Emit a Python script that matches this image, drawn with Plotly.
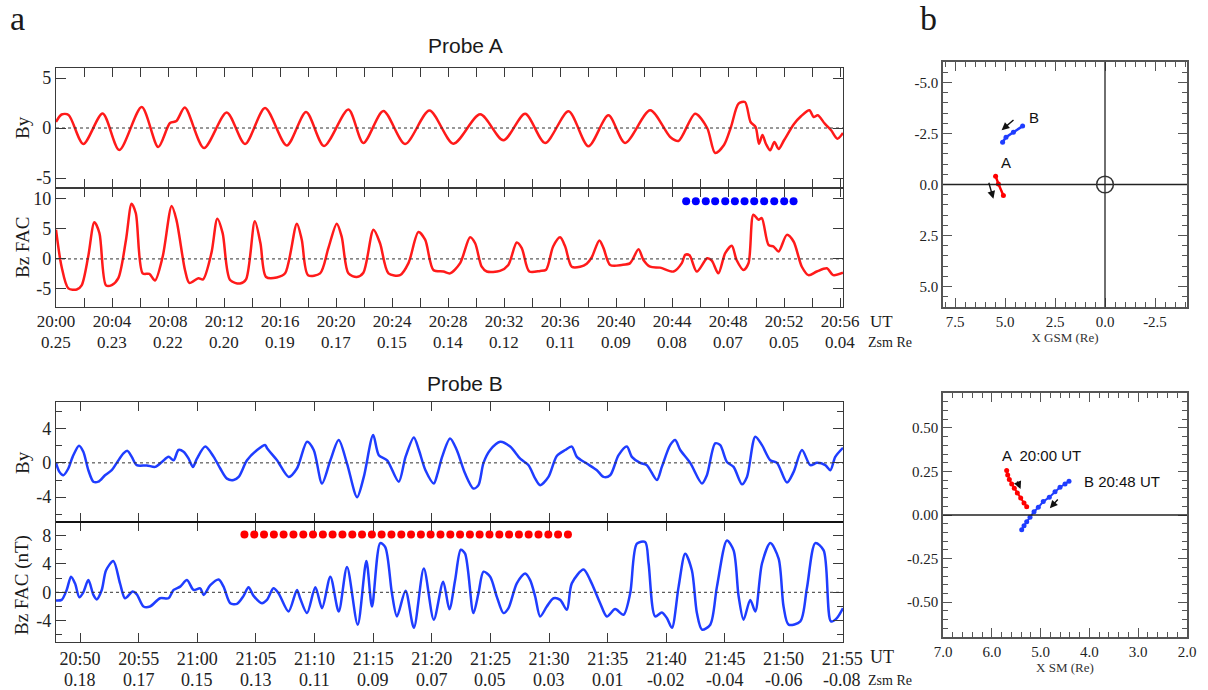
import plotly.graph_objects as go

W, H = 1208, 690
SERIF = "Liberation Serif, Times New Roman, serif"
SANS = "Liberation Sans, Arial, sans-serif"

# ---------------- Probe A (minutes after 20:00) ----------------
a_by_t = [0, 0.4, 0.9, 1.95, 3.33, 4.52, 6.12, 7.3, 8.14, 8.6, 9.2, 10.57, 12.19, 13.5, 14.93, 16.48,
          17.86, 19.14, 20.88, 21.95, 23.38, 24.93, 26.67, 28.38, 30.29, 31.95, 33.5, 34.93, 36.6, 38.02,
          39.45, 40.64, 42.43, 43.86, 44.45, 45.64, 46.5, 47.07, 47.7, 48.2, 48.74, 49.2, 49.6, 49.96,
          50.2, 50.45, 50.7, 51.0, 51.3, 51.6, 52.0, 52.7, 53.2, 53.8, 54.1, 54.4, 54.9, 55.35, 55.8, 56.2]
a_by_v = [0.6, 1.35, 1.3, -1.6, 1.45, -2.2, 2.1, -1.9, 0.5, 0.7, 2.05, -2.0, 1.55, -1.6, 2.0, -1.75,
          1.6, -1.8, 1.85, -1.5, 1.7, -1.6, 1.75, -1.57, 1.37, -1.23, 1.43, -1.5, 1.67, -1.83,
          1.27, -1.5, 1.77, -0.9, -1.3, 1.43, 0.0, -2.5, -1.7, 0.1, 2.43, 2.6, 0.6, 0.1,
          -1.57, -0.7, -1.6, -2.23, -1.4, -2.1, -1.2, 0.4, 1.17, 1.77, 1.1, 1.27, 0.43, -0.23, -1.07, -0.5]

a_bz_t = [0, 0.4, 0.88, 1.48, 1.83, 2.3, 2.74, 3.1, 3.57, 3.98, 4.45, 5.0, 5.4, 5.7, 6.19, 6.67, 7.07,
          7.62, 8.26, 8.6, 9.21, 9.52, 10.17, 10.5, 11.1, 11.52, 11.9, 12.43, 13.14, 13.57, 14.2, 14.6,
          15.0, 15.76, 16.36, 17.2, 17.55, 18.0, 18.86, 19.45, 20.05, 20.4, 20.88, 21.48, 21.95, 22.67,
          23.14, 23.74, 24.57, 25.17, 25.88, 26.36, 26.95, 27.67, 28.14, 28.86, 29.57, 29.93, 30.4,
          30.76, 31.7, 32.3, 32.9, 33.26, 33.8, 34.57, 35.0, 35.5, 36.0, 36.36, 36.83, 37.43, 37.9,
          38.26, 38.8, 39.1, 39.57, 40.4, 41.0, 41.6, 41.95, 42.43, 43.14, 44.1, 44.69, 44.93, 45.24,
          45.76, 46.5, 46.83, 47.3, 47.79, 48.26, 48.6, 49.1, 49.45, 49.8, 50.17, 50.4, 50.88, 51.24,
          51.6, 52.19, 52.67, 53.26, 53.74, 54.33, 55.05, 55.5, 56.2]
a_bz_v = [4.86, -1.3, -4.9, -5.1, -4.4, 0.4, 6.1, 4.3, -4.4, -4.36, -3.2, 3.2, 9.2, 7.6, -2.4, -2.5, -3.6,
          0.4, 8.8, 6.5, -1.84, -4.0, -3.2, -3.4, 1.0, 6.7, 4.3, -3.5, -4.1, -3.4, 6.26, 2.6,
          -3.0, -3.1, -2.4, 5.87, 3.2, -2.7, -2.4, 1.8, 5.87, 3.7, -2.4, -3.0, -2.3, 4.86,
          2.6, -2.4, -2.7, -0.7, 4.47, 3.2, -1.84, -2.1, -2.4, -0.7, 3.6, 2.6, -1.3,
          -2.1, -2.0, -1.0, 2.74, 1.8, -2.1, -2.0, -1.8, 2.07, 3.6, 2.07, -1.3, -1.3, -0.8,
          0.28, 3.07, 1.8, -1.0, -1.0, -0.7, 1.6, -0.17, -1.3, -1.45, -2.1, -0.7, 0.67, 0.6,
          -2.1, 0.1, -0.28, -2.4, 0.95, 2.18, -0.17, -1.84, -0.73, 7.37, 6.5, 6.8, 2.35, 2.07,
          1.23, 4.0, 2.9, -1.3, -2.7, -2.1, -1.56, -2.7, -2.3]

a_dots_t = [45.0, 45.69, 46.4, 47.07, 47.79, 48.48, 49.17, 49.86, 50.57, 51.29, 52.0, 52.67]
a_dots_level = 9.6

a_tick_ut = ["20:00", "20:04", "20:08", "20:12", "20:16", "20:20", "20:24", "20:28",
             "20:32", "20:36", "20:40", "20:44", "20:48", "20:52", "20:56"]
a_tick_min = [0, 4, 8, 12, 16, 20, 24, 28, 32, 36, 40, 44, 48, 52, 56]
a_tick_zsm = ["0.25", "0.23", "0.22", "0.20", "0.19", "0.17", "0.15", "0.14",
              "0.12", "0.11", "0.09", "0.08", "0.07", "0.05", "0.04"]

# ---------------- Probe B (minutes after 20:00) ----------------
b_by_t = [47.95, 48.24, 48.58, 49.0, 49.37, 49.91, 50.28, 50.71, 51.14, 51.56, 52.13, 52.7, 53.13, 53.7,
          54.04, 54.41, 54.84, 55.7, 56.41, 56.98, 57.55, 57.98, 58.4, 58.83, 59.26, 59.63, 59.97,
          60.68, 61.4, 61.96, 62.53, 63.1, 63.53, 64.24, 65.1, 65.8, 65.95, 66.8, 67.8, 68.5, 69.36,
          69.93, 70.64, 71.35, 72.06, 72.77, 73.63, 74.2, 75.0, 75.48, 76.19, 77.18, 77.76, 78.47,
          78.9, 79.46, 80.17, 80.5, 80.88, 81.56, 82.13, 82.84, 83.55, 83.98, 84.41, 84.98, 85.83,
          86.68, 87.54, 88.25, 88.82, 89.24, 89.95, 90.66, 91.38, 91.94, 92.37, 93.22, 94.08, 94.65,
          95.21, 95.93, 96.64, 97.06, 97.77, 98.34, 99.2, 99.62, 100.33, 100.76, 101.19, 102.04,
          103.04, 103.46, 104.17, 104.6, 105.17, 105.74, 106.45, 106.88, 107.59, 108.16, 108.87,
          109.44, 110.29, 110.86, 111.57, 112.28, 112.85, 113.56, 113.99, 114.41, 115.07]
b_by_v = [0.0, -1.05, -1.45, -0.66, 0.7, 2.0, 1.3, -0.86, -2.2, -2.2, -1.45, -0.86, 0.0, 1.1,
          1.4, 0.7, -0.27, -0.3, -0.47, 0.1, 0.7, 0.3, 1.5, 1.3, 0.5, -0.47, 0.5,
          1.9, 0.7, -0.66, -1.84, -2.0, -1.64, 0.3, 1.5, 2.07, 1.7, 0.3, -1.64, -0.66, 2.46,
          1.5, -2.4, 0.3, 2.66, -0.08, -4.0, -1.64, 3.24, 0.9, 0.3, -2.2, 0.7, 2.97,
          1.5, -0.86, -2.4, -1.2, 0.7, 2.85, 1.5, -1.25, -3.0, -2.6, 0.0, 1.5, 2.46,
          1.9, 0.5, -0.27, -1.84, -2.6, -1.64, 0.8, 1.5, 1.9, 0.7, -0.08, -0.86, -1.64,
          -1.45, 0.9, 1.9, 0.7, 0.0, -0.27, -2.0, -0.47, 2.07, 2.66, 1.5, 0.0,
          -2.4, -1.45, 2.27, 2.07, 0.1, -0.47, -2.5, -1.64, 3.05, 2.07, 0.3,
          0.0, -2.3, -1.05, 1.5, -0.27, 0.0, -0.27, -0.86, 0.7, 1.76]

b_bz_t = [47.95, 48.43, 48.86, 49.23, 49.57, 49.94, 50.28, 50.71, 51.14, 51.42, 51.85, 52.22, 52.84,
          53.41, 53.84, 54.49, 54.84, 55.41, 55.97, 56.82, 57.55, 57.98, 58.54, 59.12, 59.68, 60.25,
          60.54, 61.11, 61.82, 62.24, 62.81, 63.38, 63.95, 64.37, 64.8, 65.51, 65.94, 66.5, 66.93,
          67.78, 68.5, 68.77, 69.36, 70.07, 70.64, 71.35, 72.06, 72.77, 73.68, 74.42, 74.9, 75.6,
          76.03, 76.6, 77.03, 77.76, 78.47, 79.32, 80.17, 80.97, 81.5, 81.99, 82.47, 82.84, 83.55,
          83.98, 84.41, 84.98, 85.54, 86.11, 86.54, 87.25, 87.96, 88.39, 88.82, 89.24, 89.81, 90.38,
          90.95, 91.52, 91.94, 92.94, 93.51, 94.36, 94.93, 95.64, 96.35, 96.92, 97.49, 98.2, 98.49,
          99.05, 99.62, 100.05, 100.48, 101.05, 101.61, 102.18, 102.61, 103.04, 103.75, 104.32,
          105.17, 105.74, 106.17, 106.59, 107.16, 107.59, 108.16, 108.87, 109.58, 110.0, 110.43,
          111.43, 111.99, 112.71, 113.42, 114.04, 114.55, 115.07]
b_bz_v = [-1.16, -1.07, 0.33, 2.2, 1.26, -0.7, 0.0, 1.72, -0.37, -1.0, 0.33, 3.1, 4.4,
          1.26, -0.84, 0.1, -0.3, -2.0, -2.0, -0.84, -0.84, 0.33, 0.8, 1.72, 0.33, 0.56,
          -0.37, 1.0, 1.8, 0.8, -1.53, -1.63, -0.5, 0.7, -0.5, -1.53, -1.07, 0.56, -0.14,
          -2.7, 0.33, -0.84, -2.93, 0.7, -2.23, 2.2, -2.7, 3.58, -4.56, 4.4, -2.0, 6.93,
          6.37, -0.14, -3.4, 0.23, -5.0, 3.35, -3.86, 1.5, -2.4, 1.72, 6.0, 5.44, -2.93,
          -0.14, 2.9, 2.2, -0.6, -2.93, -2.23, 1.26, 2.65, 1.72, -0.6, -3.4, -2.0, -0.84,
          -1.07, -2.47, 1.26, 3.2, 1.72, -1.53, -3.4, -2.37, -3.16, -0.14, 6.84, 7.07, 4.05,
          -3.4, -2.84, -3.63, -5.0, 0.8, 5.44, 3.1, -2.93, -5.26, -4.56, 0.8,
          7.3, 5.9, -0.6, -3.86, -1.07, -2.7, 4.05, 6.93, 4.74, -2.0, -4.56,
          -4.1, 0.56, 6.93, 5.9, -4.1, -3.63, -2.23]

b_dots_t = [64.02, 64.86, 65.69, 66.53, 67.36, 68.2, 69.04, 69.87, 70.71, 71.54, 72.38, 73.22,
            74.05, 74.89, 75.72, 76.56, 77.4, 78.23, 79.07, 79.9, 80.74, 81.58, 82.41, 83.25,
            84.08, 84.92, 85.76, 86.59, 87.43, 88.26, 89.1, 89.94, 90.77, 91.61]
b_dots_level = 8.15

b_tick_min = [50, 55, 60, 65, 70, 75, 80, 85, 90, 95, 100, 105, 110, 115]
b_tick_ut = ["20:50", "20:55", "21:00", "21:05", "21:10", "21:15", "21:20", "21:25",
             "21:30", "21:35", "21:40", "21:45", "21:50", "21:55"]
b_tick_zsm = ["0.18", "0.17", "0.15", "0.13", "0.11", "0.09", "0.07", "0.05",
              "0.03", "0.01", "-0.02", "-0.04", "-0.06", "-0.08"]

# ---------------- Panel b: orbits ----------------
gsm_a_x = [5.47, 5.33, 5.08]
gsm_a_y = [-0.41, -0.03, 0.54]
gsm_b_x = [5.12, 4.95, 4.58, 4.12]
gsm_b_y = [-2.07, -2.32, -2.56, -2.86]

sm_a_x = [5.695, 5.674, 5.641, 5.592, 5.539, 5.477, 5.408, 5.340, 5.285]
sm_a_y = [0.255, 0.230, 0.203, 0.178, 0.153, 0.126, 0.098, 0.069, 0.048]
sm_b_x = [5.387, 5.34, 5.285, 5.217, 5.135, 5.047, 4.945, 4.822, 4.705, 4.602, 4.5, 4.418]
sm_b_y = [-0.084, -0.061, -0.039, -0.013, 0.019, 0.044, 0.077, 0.102, 0.134, 0.159, 0.178, 0.194]

RED = "#ff1a1a"
BLUE = "#1f3dff"


def px(x):
    return x / W


def py(y):
    return 1 - y / H


fig = go.Figure()

line_kw = dict(mode="lines", line_shape="spline", hoverinfo="skip", showlegend=False)
fig.add_trace(go.Scatter(x=a_by_t, y=a_by_v, line=dict(color=RED, width=2.5, smoothing=0.8),
                         xaxis="x", yaxis="y", **line_kw))
fig.add_trace(go.Scatter(x=a_bz_t, y=a_bz_v, line=dict(color=RED, width=2.5, smoothing=0.8),
                         xaxis="x2", yaxis="y2", **line_kw))
fig.add_trace(go.Scatter(x=a_dots_t, y=[a_dots_level] * len(a_dots_t), mode="markers",
                         marker=dict(color="#0000ff", size=8), xaxis="x2", yaxis="y2",
                         showlegend=False, hoverinfo="skip"))
fig.add_trace(go.Scatter(x=b_by_t, y=b_by_v, line=dict(color=BLUE, width=2.5, smoothing=0.8),
                         xaxis="x3", yaxis="y3", **line_kw))
fig.add_trace(go.Scatter(x=b_bz_t, y=b_bz_v, line=dict(color=BLUE, width=2.5, smoothing=0.8),
                         xaxis="x4", yaxis="y4", **line_kw))
fig.add_trace(go.Scatter(x=b_dots_t, y=[b_dots_level] * len(b_dots_t), mode="markers",
                         marker=dict(color="#ff0000", size=8), xaxis="x4", yaxis="y4",
                         showlegend=False, hoverinfo="skip"))

orb_kw = dict(mode="lines+markers", showlegend=False, hoverinfo="skip")
fig.add_trace(go.Scatter(x=gsm_a_x, y=gsm_a_y, line=dict(color="#ff0000", width=2.5),
                         marker=dict(size=5, color="#ff0000"), xaxis="x5", yaxis="y5", **orb_kw))
fig.add_trace(go.Scatter(x=gsm_b_x, y=gsm_b_y, line=dict(color=BLUE, width=2.5),
                         marker=dict(size=5, color=BLUE), xaxis="x5", yaxis="y5", **orb_kw))
fig.add_trace(go.Scatter(x=sm_a_x, y=sm_a_y, line=dict(color="#ff0000", width=2),
                         marker=dict(size=5, color="#ff0000"), xaxis="x6", yaxis="y6", **orb_kw))
fig.add_trace(go.Scatter(x=sm_b_x, y=sm_b_y, line=dict(color=BLUE, width=2),
                         marker=dict(size=5, color=BLUE), xaxis="x6", yaxis="y6", **orb_kw))

FRAME = "#3a3a3a"
tickfont = dict(family=SERIF, size=18, color="#222")


def time_axis(tickvals, ticktext, rng, anchor, show_labels, fsize=18, standoff=0):
    return dict(domain=[px(56), px(843)], range=rng, anchor=anchor, showline=True, mirror="allticks",
                linecolor=FRAME, linewidth=1.3, ticks="inside", ticklen=9, tickwidth=1.3,
                tickcolor=FRAME, tickmode="array", tickvals=tickvals, ticktext=ticktext,
                showticklabels=show_labels, tickfont=dict(family=SERIF, size=fsize, color="#222"),
                showgrid=False, zeroline=False, tickangle=0, automargin=False,
                ticklabelstandoff=standoff)


def val_axis(domain, rng, tickvals, ticktext, anchor, minor=None):
    d = dict(domain=domain, range=rng, anchor=anchor, showline=True, mirror="allticks",
             linecolor=FRAME, linewidth=1.3, ticks="inside", ticklen=10, tickwidth=1.3,
             tickcolor=FRAME, tickmode="array", tickvals=tickvals, ticktext=ticktext,
             tickfont=tickfont, showgrid=False, zeroline=False, automargin=False)
    if minor is not None:
        d["minor"] = dict(tickvals=minor, ticks="inside", ticklen=6, tickwidth=1.3, tickcolor=FRAME,
                          showgrid=False)
    return d


a_all_ticks = list(range(0, 57, 2))
a_all_text = [a_tick_ut[a_tick_min.index(t)] if t in a_tick_min else "" for t in a_all_ticks]

layout = dict(
    width=W, height=H, autosize=False,
    margin=dict(l=0, r=0, t=0, b=0, pad=0, autoexpand=False),
    paper_bgcolor="white", plot_bgcolor="white",
    xaxis=time_axis(a_all_ticks, a_all_text, [0, 56.2], "y", False),
    xaxis2=time_axis(a_all_ticks, a_all_text, [0, 56.2], "y2", True, fsize=17, standoff=-2),
    xaxis3=time_axis(b_tick_min, b_tick_ut, [47.95, 115.07], "y3", False),
    xaxis4=time_axis(b_tick_min, b_tick_ut, [47.95, 115.07], "y4", True),
    yaxis=val_axis([py(188), py(68)], [-6, 6], [-5, 0, 5], ["-5", "0", "5"], "x"),
    yaxis2=val_axis([py(307), py(188)], [-8, 11.8], [-5, 0, 5, 10], ["-5", "0", "5", "10"], "x2"),
    yaxis3=val_axis([py(522), py(402)], [-6.9, 7.1], [-4, 0, 4], ["-4", "0", "4"], "x3",
                    minor=[-6, -2, 2, 6]),
    yaxis4=val_axis([py(642), py(522)], [-7, 9.9], [-4, 0, 4, 8], ["-4", "0", "4", "8"], "x4",
                    minor=[-6, -2, 2, 6]),
)

small_font = dict(family=SERIF, size=15, color="#222")
gray = "#555"
layout["xaxis5"] = dict(domain=[px(943), px(1187)], range=[8.1, -4.1], anchor="y5", showline=True,
                        mirror="allticks", linecolor=gray, linewidth=1.5, ticks="inside", ticklen=9,
                        tickcolor=gray, tickvals=[7.5, 5.0, 2.5, 0.0, -2.5],
                        ticktext=["7.5", "5.0", "2.5", "0.0", "-2.5"], tickmode="array",
                        minor=dict(dtick=0.5, ticks="inside", ticklen=5, tickcolor=gray, showgrid=False),
                        tickfont=small_font, showgrid=False, zeroline=False, automargin=False,
                        title=dict(text="X GSM (Re)", font=dict(family=SERIF, size=13, color="#333"),
                                   standoff=4))
layout["yaxis5"] = dict(domain=[py(307), py(62)], range=[6, -6], anchor="x5", showline=True,
                        mirror="allticks", linecolor=gray, linewidth=1.5, ticks="inside", ticklen=9,
                        tickcolor=gray, tickvals=[-5, -2.5, 0, 2.5, 5],
                        ticktext=["-5.0", "-2.5", "0.0", "2.5", "5.0"], tickmode="array",
                        minor=dict(dtick=0.5, ticks="inside", ticklen=5, tickcolor=gray, showgrid=False),
                        tickfont=small_font, showgrid=False, zeroline=False, automargin=False)
layout["xaxis6"] = dict(domain=[px(943), px(1187)], range=[7, 2], anchor="y6", showline=True,
                        mirror="allticks", linecolor=gray, linewidth=1.5, ticks="inside", ticklen=9,
                        tickcolor=gray, tickvals=[7, 6, 5, 4, 3, 2],
                        ticktext=["7.0", "6.0", "5.0", "4.0", "3.0", "2.0"], tickmode="array",
                        minor=dict(dtick=0.2, ticks="inside", ticklen=5, tickcolor=gray, showgrid=False),
                        tickfont=small_font, showgrid=False, zeroline=False, automargin=False,
                        title=dict(text="X SM (Re)", font=dict(family=SERIF, size=13, color="#333"),
                                   standoff=4))
layout["yaxis6"] = dict(domain=[py(637), py(393)], range=[-0.7, 0.7], anchor="x6", showline=True,
                        mirror="allticks", linecolor=gray, linewidth=1.5, ticks="inside", ticklen=9,
                        tickcolor=gray, tickvals=[0.5, 0.25, 0, -0.25, -0.5],
                        ticktext=["0.50", "0.25", "0.00", "-0.25", "-0.50"], tickmode="array",
                        minor=dict(dtick=0.05, ticks="inside", ticklen=5, tickcolor=gray, showgrid=False),
                        tickfont=small_font, showgrid=False, zeroline=False, automargin=False)

fig.update_layout(**layout)

shapes = []
for xa, ya in [("x", "y"), ("x2", "y2"), ("x3", "y3"), ("x4", "y4")]:
    shapes.append(dict(type="line", xref=xa + " domain", yref=ya, x0=0, x1=1, y0=0, y1=0,
                       line=dict(color="#333", width=1, dash="dot")))
# thicker separator between B panels
shapes.append(dict(type="line", xref="x3 domain", yref="paper", x0=0, x1=1, y0=py(522), y1=py(522),
                   line=dict(color="#111", width=2.2)))
# GSM cross-hair + Earth circle
shapes.append(dict(type="line", xref="x5", yref="y5 domain", x0=0, x1=0, y0=0, y1=1,
                   line=dict(color="#222", width=1.3)))
shapes.append(dict(type="line", xref="x5 domain", yref="y5", x0=0, x1=1, y0=0, y1=0,
                   line=dict(color="#222", width=1.3)))
shapes.append(dict(type="circle", xref="x5", yref="y5", x0=-0.42, x1=0.42, y0=-0.41, y1=0.41,
                   line=dict(color="#333", width=1.5)))
shapes.append(dict(type="line", xref="x6 domain", yref="y6", x0=0, x1=1, y0=0, y1=0,
                   line=dict(color="#222", width=1.3)))


def pann(text, x, y, size, family=SERIF, xanchor="center", yanchor="middle", **kw):
    return dict(text=text, x=px(x), y=py(y), xref="paper", yref="paper", xanchor=xanchor,
                yanchor=yanchor, showarrow=False, font=dict(family=family, size=size, color="#1a1a1a"),
                **kw)


ann = []
ann.append(pann("a", 8, 19, 34, xanchor="left"))
ann.append(pann("b", 918, 19, 34, xanchor="left"))
ann.append(pann("Probe A", 465, 46, 21, family=SANS))
ann.append(pann("Probe B", 465, 383, 21, family=SANS))
for txt, yy in [("By", 128), ("Bz FAC", 248), ("By", 463), ("Bz FAC (nT)", 585)]:
    ann.append(pann(txt, 22, yy, 19, textangle=-90))
for t, z in zip(a_tick_min, a_tick_zsm):
    ann.append(dict(text=z, x=t, xref="x2", y=py(343), yref="paper", xanchor="center", yanchor="middle",
                    showarrow=False, font=dict(family=SERIF, size=17, color="#222")))
for t, z in zip(b_tick_min, b_tick_zsm):
    ann.append(dict(text=z, x=t, xref="x4", y=py(680), yref="paper", xanchor="center", yanchor="middle",
                    showarrow=False, font=dict(family=SERIF, size=18, color="#222")))
for yy, zz, sz in [(321, 343, 17), (657, 680, 18)]:
    ann.append(pann("UT", 868, yy, sz, xanchor="left"))
    ann.append(pann("Zsm Re", 866, zz, 14, xanchor="left"))

# panel b labels
lab_font = dict(family=SANS, size=15, color="#111")
ann.append(dict(text="B", x=3.55, y=-3.3, xref="x5", yref="y5", showarrow=False, font=lab_font,
                xanchor="center", yanchor="middle"))
ann.append(dict(text="A", x=4.95, y=-1.1, xref="x5", yref="y5", showarrow=False, font=lab_font,
                xanchor="center", yanchor="middle"))
ann.append(dict(text="A  20:00 UT", x=5.83, y=0.34, xref="x6", yref="y6", xanchor="left",
                yanchor="middle", showarrow=False, font=lab_font))
ann.append(dict(text="B 20:48 UT", x=4.15, y=0.195, xref="x6", yref="y6", xanchor="left",
                yanchor="middle", showarrow=False, font=lab_font))

# arrows (head at x,y ; tail at ax,ay)
arrows = [("x5", "y5", 5.17, -2.66, 4.5, -3.22), ("x5", "y5", 5.58, 0.70, 5.83, -0.16),
          ("x6", "y6", 5.41, 0.149, 5.49, 0.201), ("x6", "y6", 4.81, 0.039, 4.62, 0.098)]
for xa, ya, hx, hy, tx, ty in arrows:
    ann.append(dict(text="", x=hx, y=hy, ax=tx, ay=ty, xref=xa, yref=ya, axref=xa, ayref=ya,
                    showarrow=True, arrowhead=2, arrowsize=1.1, arrowwidth=1.4, arrowcolor="#111"))

fig.update_layout(shapes=shapes, annotations=ann)
fig.write_html("out.html")
